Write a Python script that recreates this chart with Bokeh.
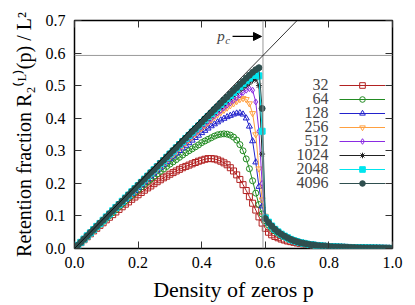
from bokeh.plotting import figure
from bokeh.models import (Range1d, LinearAxis, FixedTicker, PrintfTickFormatter, Span, Slope,
                          Arrow, NormalHead, Label, Legend, LegendItem, CustomLabelingPolicy)
from bokeh.embed import file_html
from bokeh.resources import INLINE

# sample grid of the density of zeros p (0.00 ... 1.00, step 0.01)
P = [round(i * 0.01, 2) for i in range(101)]

# common tail p = 0.62 ... 1.00
TAIL = [0.069, 0.059, 0.051, 0.044, 0.038, 0.033, 0.028, 0.024, 0.021,
        0.018, 0.016, 0.014, 0.012, 0.011,
        0.0095, 0.0085, 0.0075, 0.0067, 0.006,
        0.0054, 0.0049, 0.0044, 0.004, 0.0036,
        0.0033, 0.003, 0.0027, 0.0024, 0.0022,
        0.002, 0.0018, 0.0016, 0.0014, 0.0012,
        0.001, 0.0008, 0.0006, 0.0004, 0.0]

R32 = [0, 0.009, 0.018, 0.027, 0.036, 0.045, 0.054, 0.062, 0.071, 0.079,
       0.088, 0.096, 0.104, 0.112, 0.120, 0.128, 0.136, 0.143, 0.151, 0.158,
       0.165, 0.172, 0.179, 0.186, 0.192, 0.199, 0.205, 0.211, 0.217, 0.222,
       0.228, 0.233, 0.238, 0.243, 0.248, 0.252, 0.256, 0.260, 0.264, 0.268,
       0.271, 0.274, 0.276, 0.276, 0.275, 0.272, 0.268, 0.263, 0.257, 0.248,
       0.238, 0.226, 0.212, 0.196, 0.178, 0.159, 0.139, 0.118, 0.097, 0.078,
       0.062, 0.050,
       0.042, 0.037, 0.033, 0.029, 0.026, 0.023, 0.021, 0.019, 0.017, 0.015,
       0.014, 0.012, 0.011, 0.010,
       0.009, 0.008, 0.0072, 0.0065, 0.0058, 0.0052, 0.0047, 0.0042, 0.0038, 0.0034,
       0.0031, 0.0028, 0.0025, 0.0023, 0.0021, 0.0019, 0.0017, 0.0015, 0.0013, 0.0011,
       0.0009, 0.0007, 0.0005, 0.0003, 0.0]

G64 = [0, 0.010, 0.019, 0.028, 0.037, 0.047, 0.056, 0.065, 0.074, 0.083,
       0.092, 0.101, 0.110, 0.119, 0.128, 0.137, 0.146, 0.155, 0.163, 0.172,
       0.180, 0.189, 0.197, 0.205, 0.213, 0.221, 0.229, 0.237, 0.244, 0.252,
       0.259, 0.266, 0.273, 0.280, 0.287, 0.294, 0.300, 0.306, 0.312, 0.318,
       0.325, 0.330, 0.335, 0.340, 0.345, 0.349, 0.351, 0.352, 0.351, 0.348,
       0.342, 0.333, 0.319, 0.300, 0.275, 0.245, 0.208, 0.170, 0.135, 0.106,
       0.085, 0.072,
       0.062, 0.054, 0.047, 0.041, 0.036, 0.031, 0.027, 0.024, 0.021] + TAIL[9:]

B128 = [0, 0.010, 0.019, 0.028, 0.038, 0.047, 0.057, 0.066, 0.075, 0.085,
        0.094, 0.103, 0.113, 0.122, 0.131, 0.140, 0.150, 0.159, 0.168, 0.177,
        0.186, 0.195, 0.204, 0.213, 0.222, 0.231, 0.240, 0.249, 0.258, 0.266,
        0.275, 0.283, 0.292, 0.300, 0.308, 0.316, 0.324, 0.332, 0.340, 0.347,
        0.355, 0.362, 0.369, 0.376, 0.382, 0.388, 0.394, 0.399, 0.404, 0.408,
        0.412, 0.415, 0.416, 0.412, 0.400, 0.375, 0.330, 0.265, 0.190, 0.130,
        0.095, 0.079] + TAIL

O256 = [0, 0.010, 0.019, 0.029, 0.038, 0.048, 0.057, 0.067, 0.076, 0.086,
        0.095, 0.105, 0.114, 0.123, 0.133, 0.142, 0.152, 0.161, 0.170, 0.180,
        0.189, 0.198, 0.207, 0.217, 0.226, 0.235, 0.244, 0.253, 0.262, 0.271,
        0.280, 0.289, 0.298, 0.307, 0.316, 0.325, 0.334, 0.343, 0.352, 0.361,
        0.370, 0.378, 0.387, 0.395, 0.403, 0.411, 0.418, 0.425, 0.432, 0.439,
        0.445, 0.452, 0.458, 0.461, 0.458, 0.445, 0.415, 0.350, 0.245, 0.150,
        0.100, 0.081] + TAIL

V512 = [0, 0.010, 0.019, 0.029, 0.038, 0.048, 0.057, 0.067, 0.077, 0.086,
        0.096, 0.105, 0.115, 0.124, 0.134, 0.143, 0.153, 0.162, 0.172, 0.181,
        0.190, 0.200, 0.209, 0.219, 0.228, 0.237, 0.247, 0.256, 0.265, 0.274,
        0.284, 0.293, 0.302, 0.311, 0.320, 0.329, 0.338, 0.347, 0.356, 0.365,
        0.374, 0.382, 0.391, 0.399, 0.408, 0.416, 0.424, 0.432, 0.440, 0.447,
        0.455, 0.463, 0.471, 0.479, 0.486, 0.491, 0.486, 0.450, 0.360, 0.200,
        0.100, 0.082] + TAIL

K1024 = [0, 0.010, 0.019, 0.029, 0.038, 0.048, 0.058, 0.067, 0.077, 0.087,
         0.096, 0.106, 0.115, 0.125, 0.135, 0.144, 0.154, 0.163, 0.173, 0.182,
         0.192, 0.202, 0.211, 0.221, 0.230, 0.240, 0.249, 0.259, 0.268, 0.278,
         0.287, 0.297, 0.306, 0.316, 0.325, 0.334, 0.344, 0.353, 0.362, 0.372,
         0.381, 0.390, 0.399, 0.408, 0.417, 0.426, 0.435, 0.444, 0.453, 0.461,
         0.470, 0.478, 0.486, 0.494, 0.501, 0.508, 0.516, 0.520, 0.500, 0.290,
         0.095, 0.082] + TAIL

C2048 = [0, 0.010, 0.019, 0.029, 0.039, 0.048, 0.058, 0.068, 0.077, 0.087,
         0.097, 0.106, 0.116, 0.126, 0.135, 0.145, 0.155, 0.164, 0.174, 0.184,
         0.193, 0.203, 0.213, 0.222, 0.232, 0.242, 0.251, 0.261, 0.270, 0.280,
         0.290, 0.299, 0.309, 0.319, 0.328, 0.338, 0.347, 0.357, 0.367, 0.376,
         0.386, 0.395, 0.405, 0.414, 0.424, 0.433, 0.443, 0.452, 0.461, 0.470,
         0.479, 0.488, 0.497, 0.506, 0.515, 0.523, 0.531, 0.537, 0.530, 0.360,
         0.094, 0.081] + TAIL

T4096 = [0, 0.010, 0.019, 0.029, 0.039, 0.049, 0.058, 0.068, 0.078, 0.087,
         0.097, 0.107, 0.116, 0.126, 0.136, 0.145, 0.155, 0.165, 0.175, 0.184,
         0.194, 0.204, 0.213, 0.223, 0.233, 0.242, 0.252, 0.262, 0.271, 0.281,
         0.291, 0.301, 0.310, 0.320, 0.330, 0.339, 0.349, 0.359, 0.368, 0.378,
         0.388, 0.398, 0.407, 0.417, 0.427, 0.436, 0.446, 0.456, 0.465, 0.475,
         0.485, 0.494, 0.504, 0.513, 0.523, 0.532, 0.541, 0.549, 0.555, 0.430,
         0.092, 0.080] + TAIL

LABELS = ["32", "64", "128", "256", "512", "1024", "2048", "4096"]
SERIES = [R32, G64, B128, O256, V512, K1024, C2048, T4096]
COLORS = ["#b22222", "#228b22", "#2222cc", "#ffa040", "#8a2be2", "#222222", "#00e5ee", "#2f4f4f"]
MARKERS = ["square", "circle", "triangle", "inverted_triangle", "diamond", "asterisk", "square", "circle"]
FILLED = [False, False, False, False, False, False, True, True]

X_TICKS = [0.0, 0.2, 0.4, 0.6, 0.8, 1.0]
Y_TICKS = [0.0, 0.1, 0.2, 0.3, 0.4, 0.5, 0.6, 0.7]
PC = 0.5927

FONT = "'Liberation Serif', 'Times New Roman', serif"

p = figure(width=415, height=305, output_backend="svg", toolbar_location=None,
           x_range=Range1d(0, 1), y_range=Range1d(0, 0.7),
           min_border_left=74, min_border_right=11, min_border_top=20, min_border_bottom=57)
p.grid.visible = False
p.outline_line_color = "black"
p.outline_line_width = 1.5
p.background_fill_color = "white"
p.border_fill_color = "white"

NO_LABELS = CustomLabelingPolicy(code="for (const i of indices) { indices.unset(i) } return indices")

def style_axis(ax, ticks, show_labels):
    ax.ticker = FixedTicker(ticks=ticks)
    ax.formatter = PrintfTickFormatter(format="%.1f")
    ax.axis_line_color = None
    ax.major_tick_in = 7
    ax.major_tick_out = 0
    ax.major_tick_line_color = "#333333"
    ax.minor_tick_in = 0
    ax.minor_tick_out = 0
    ax.major_label_text_font = FONT
    ax.major_label_text_font_size = "16px"
    ax.major_label_text_color = "black"
    if not show_labels:
        ax.major_label_policy = NO_LABELS
        ax.major_label_standoff = 0

style_axis(p.xaxis[0], X_TICKS, True)
style_axis(p.yaxis[0], Y_TICKS, True)
p.xaxis[0].major_label_standoff = 8
p.yaxis[0].major_label_standoff = 9

p.xaxis[0].axis_label = "Density of zeros p"
p.yaxis[0].axis_label = "Retention fraction R\u2082\u207d\u1d38\u207e(p) / L\u00b2"
for ax in (p.xaxis[0], p.yaxis[0]):
    ax.axis_label_text_font = FONT
    ax.axis_label_text_font_style = "normal"
    ax.axis_label_text_color = "black"
p.xaxis[0].axis_label_text_font_size = "22px"
p.yaxis[0].axis_label_text_font_size = "20px"
p.xaxis[0].axis_label_standoff = 6
p.yaxis[0].axis_label_standoff = 8

top = LinearAxis()
style_axis(top, X_TICKS, False)
p.add_layout(top, "above")
right = LinearAxis()
style_axis(right, Y_TICKS, False)
p.add_layout(right, "right")

# reference lines
p.add_layout(Span(location=PC, dimension="width", line_color="#999999", line_width=1))
p.add_layout(Span(location=PC, dimension="height", line_color="#999999", line_width=1))
p.add_layout(Slope(gradient=1, y_intercept=0, line_color="black", line_width=0.8))

items = []
for lab, ys, col, mk, filled in zip(LABELS, SERIES, COLORS, MARKERS, FILLED):
    xs = P[:len(ys)]
    ln = p.line(xs, ys, line_color=col, line_width=1)
    sc = p.scatter(xs, ys, marker=mk, size=6, line_color=col, line_width=1,
                   fill_color=col if filled else None)
    items.append(LegendItem(label="", renderers=[ln, sc]))

# legend samples (line + marker); the size labels are drawn to their left
ROW_H = 14
legend = Legend(items=items, location=(265, 58), glyph_width=46, glyph_height=ROW_H,
                label_height=ROW_H, label_width=0, label_standoff=0, spacing=0,
                padding=0, margin=0, label_text_font=FONT, label_text_font_size="16px",
                border_line_color=None, background_fill_alpha=0)
p.add_layout(legend)
for i, lab in enumerate(LABELS):
    p.add_layout(Label(x=254, y=164 - ROW_H * i, x_units="screen", y_units="screen",
                       text=lab, text_font=FONT, text_font_size="16px",
                       text_align="right", text_baseline="middle"))

# p_c annotation
p.add_layout(Arrow(x_start=0.497, y_start=0.651, x_end=0.588, y_end=0.651,
                   line_color="black", line_width=1.2,
                   end=NormalHead(size=8, fill_color="black", line_color="black")))
p.add_layout(Label(x=0.449, y=0.651, text="p", text_font=FONT, text_font_style="italic",
                   text_font_size="15px", text_baseline="middle", text_align="left"))
p.add_layout(Label(x=0.449, y=0.651, x_offset=8, y_offset=-4, text="c", text_font=FONT,
                   text_font_style="italic", text_font_size="11px", text_baseline="middle",
                   text_align="left"))

open("out.html", "w").write(file_html(p, INLINE))
